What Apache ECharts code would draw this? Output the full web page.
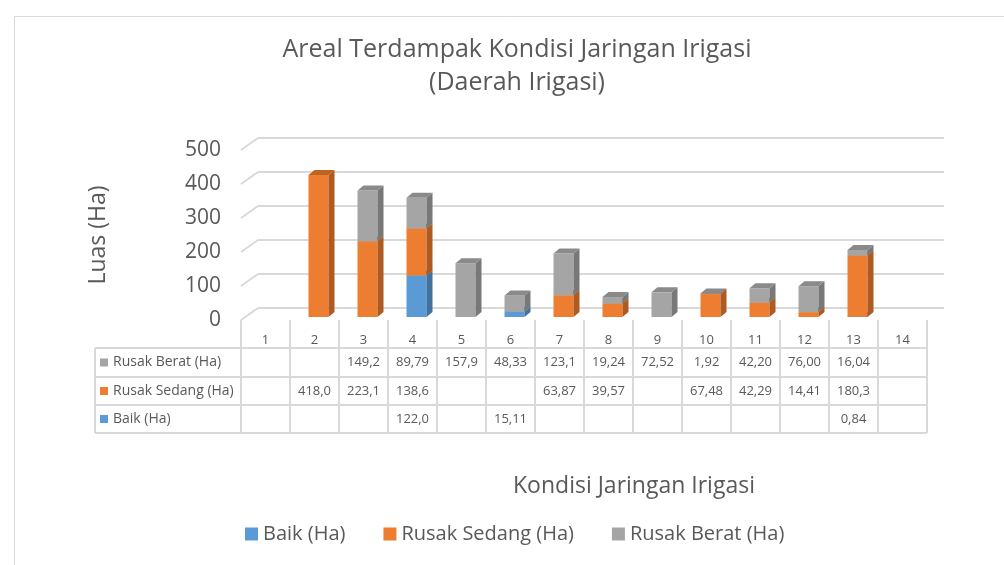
<!DOCTYPE html>
<html>
<head>
<meta charset="utf-8">
<script src="https://cdn.jsdelivr.net/npm/echarts@6/dist/echarts.min.js"></script>
<style>
  html, body { margin: 0; padding: 0; background: #fff; }
  #main { width: 1004px; height: 565px; }
</style>
</head>
<body>
<div id="main"></div>
<script>
// data kondisi jaringan irigasi (Ha)
var categories = ['1', '2', '3', '4', '5', '6', '7', '8', '9', '10', '11', '12', '13', '14'];
var baik = [null, null, null, 122.0, null, 15.11, null, null, null, null, null, null, 0.84, null];
var rusakSedang = [null, 418.0, 223.1, 138.6, null, null, 63.87, 39.57, null, 67.48, 42.29, 14.41, 180.3, null];
var rusakBerat = [null, null, 149.2, 89.79, 157.9, 48.33, 123.1, 19.24, 72.52, 1.92, 42.20, 76.00, 16.04, null];
var yTicks = [0, 100, 200, 300, 400, 500];
var seriesNames = ['Baik (Ha)', 'Rusak Sedang (Ha)', 'Rusak Berat (Ha)'];

var FONT = 'Open Sans';
var TXT = '#595959';
var GRIDC = '#D9D9D9';

// warna depan / samping / atas
var colors = [
    { front: '#5B9BD5', side: '#41719C', top: '#4A84B8' },
    { front: '#ED7D31', side: '#AE5A21', top: '#C0631F' },
    { front: '#A5A5A5', side: '#787878', top: '#8A8A8A' }
];

// data untuk bar bertumpuk: [index, nilai, dasar]
function stackData(list, below) {
    var out = [];
    for (var i = 0; i < list.length; i++) {
        if (list[i] == null) continue;
        var base = 0;
        for (var k = 0; k < below.length; k++) {
            if (below[k][i] != null) base += below[k][i];
        }
        out.push([i, list[i], base]);
    }
    return out;
}

function makeBar(c) {
    return function (params, api) {
        var i = api.value(0), v = api.value(1), base = api.value(2);
        var b = api.coord([i, base]);
        var t = api.coord([i, base + v]);
        var x0 = t[0] - 10, x1 = t[0] + 10, dx = 6, dy = 5;
        return {
            type: 'group',
            children: [
                { type: 'rect', shape: { x: x0, y: t[1], width: 20, height: b[1] - t[1] }, style: { fill: c.front } },
                { type: 'polygon', shape: { points: [[x1, t[1]], [x1 + dx, t[1] - dy], [x1 + dx, b[1] - dy], [x1, b[1]]] }, style: { fill: c.side } },
                { type: 'polygon', shape: { points: [[x0, t[1]], [x0 + dx, t[1] - dy], [x1 + dx, t[1] - dy], [x1, t[1]]] }, style: { fill: c.top } }
            ]
        };
    };
}

// garis dinding samping kiri
function renderWall(params, api) {
    var v = api.value(0);
    var p = api.coord([0, v]);
    var w = api.size([1, 0])[0];
    var x = p[0] - w / 2;
    return {
        type: 'line',
        shape: { x1: x, y1: p[1], x2: x + 17, y2: p[1] - 12 },
        style: { stroke: GRIDC, lineWidth: 2 }
    };
}

var chart = echarts.init(document.getElementById('main'));

var option = {
    animation: false,
    backgroundColor: '#fff',
    title: {
        text: 'Areal Terdampak Kondisi Jaringan Irigasi\n(Daerah Irigasi)',
        left: 512,
        top: 28,
        textAlign: 'center',
        textStyle: { fontFamily: FONT, fontSize: 25, fontWeight: 'normal', color: TXT, lineHeight: 33 }
    },
    legend: {
        data: seriesNames,
        left: 240,
        top: 519,
        itemWidth: 13,
        itemHeight: 13,
        itemGap: 38,
        icon: 'rect',
        textStyle: { fontFamily: FONT, fontSize: 20, color: TXT }
    },
    grid: [
        { left: 241, right: 77, top: 150, height: 170 },   // lantai depan + label
        { left: 245, right: 73, top: 147, height: 170 },   // bar
        { left: 258, right: 60, top: 138, height: 170 }    // dinding belakang
    ],
    xAxis: [
        {
            type: 'category', gridIndex: 0, data: categories,
            axisLine: { show: false }, axisTick: { show: false },
            axisLabel: { fontFamily: FONT, fontSize: 13, color: TXT, margin: 14 }
        },
        { type: 'category', gridIndex: 1, data: categories, show: false },
        { type: 'category', gridIndex: 2, data: categories, show: false }
    ],
    yAxis: [
        {
            type: 'value', gridIndex: 0, min: 0, max: 500, interval: 100,
            axisLine: { show: false }, axisTick: { show: false }, splitLine: { show: false },
            axisLabel: { fontFamily: FONT, fontSize: 21, color: TXT, margin: 20 }
        },
        { type: 'value', gridIndex: 1, min: 0, max: 500, interval: 100, show: false },
        {
            type: 'value', gridIndex: 2, min: 0, max: 500, interval: 100,
            axisLine: { show: false }, axisTick: { show: false }, axisLabel: { show: false },
            splitLine: { show: true, lineStyle: { color: GRIDC, width: 2 } }
        }
    ],
    series: [
        {
            type: 'custom', name: 'wall', xAxisIndex: 0, yAxisIndex: 0,
            data: yTicks.map(function (v) { return [v]; }),
            encode: { y: 0 },
            renderItem: renderWall, silent: true
        },
        {
            type: 'custom', name: seriesNames[0], xAxisIndex: 1, yAxisIndex: 1,
            itemStyle: { color: colors[0].front },
            data: stackData(baik, []),
            encode: { x: 0, y: 1 },
            renderItem: makeBar(colors[0])
        },
        {
            type: 'custom', name: seriesNames[1], xAxisIndex: 1, yAxisIndex: 1,
            itemStyle: { color: colors[1].front },
            data: stackData(rusakSedang, [baik]),
            encode: { x: 0, y: 1 },
            renderItem: makeBar(colors[1])
        },
        {
            type: 'custom', name: seriesNames[2], xAxisIndex: 1, yAxisIndex: 1,
            itemStyle: { color: colors[2].front },
            data: stackData(rusakBerat, [baik, rusakSedang]),
            encode: { x: 0, y: 1 },
            renderItem: makeBar(colors[2])
        }
    ]
};
chart.setOption(option);

// tabel data di bawah grafik
function fmt(v) {
    if (v == null) return '';
    var s = v >= 100 ? v.toFixed(1) : v.toFixed(2);
    return s.replace('.', ',');
}

var c0 = chart.convertToPixel({ xAxisIndex: 0 }, 0);
var c1 = chart.convertToPixel({ xAxisIndex: 0 }, 1);
var colW = c1 - c0;
var firstEdge = c0 - colW / 2;
var lastEdge = firstEdge + colW * categories.length;
var tableLeft = 95;
var rowLines = [348, 377, 405, 433];
var rows = [
    { name: seriesNames[2], data: rusakBerat, color: colors[2].front },
    { name: seriesNames[1], data: rusakSedang, color: colors[1].front },
    { name: seriesNames[0], data: baik, color: colors[0].front }
];

var g = [];
g.push({ type: 'rect', left: 12, top: 14, shape: { x: 0, y: 0, width: 1010, height: 570 }, style: { fill: 'none', stroke: GRIDC, lineWidth: 1 }, z: -1 });
rowLines.forEach(function (y) {
    g.push({ type: 'line', shape: { x1: tableLeft, y1: y, x2: lastEdge, y2: y }, style: { stroke: GRIDC, lineWidth: 2 } });
});
g.push({ type: 'line', shape: { x1: tableLeft, y1: rowLines[0], x2: tableLeft, y2: rowLines[3] }, style: { stroke: GRIDC, lineWidth: 2 } });
for (var k = 0; k <= categories.length; k++) {
    var ex = firstEdge + colW * k;
    g.push({ type: 'line', shape: { x1: ex, y1: 320, x2: ex, y2: rowLines[3] }, style: { stroke: GRIDC, lineWidth: 2 } });
}
rows.forEach(function (r, ri) {
    var cy = (rowLines[ri] + rowLines[ri + 1]) / 2;
    g.push({ type: 'rect', shape: { x: 100, y: cy - 4, width: 8, height: 8 }, style: { fill: r.color } });
    g.push({ type: 'text', x: 113, y: cy, style: { text: r.name, fontFamily: FONT, fontSize: 14, fill: TXT, verticalAlign: 'middle', align: 'left' } });
    for (var i = 0; i < r.data.length; i++) {
        if (r.data[i] == null) continue;
        var cx = chart.convertToPixel({ xAxisIndex: 0 }, i);
        g.push({ type: 'text', x: cx, y: cy, style: { text: fmt(r.data[i]), fontFamily: FONT, fontSize: 13, fill: TXT, align: 'center', verticalAlign: 'middle' } });
    }
});
// judul sumbu
g.push({ type: 'text', x: 634, y: 486, style: { text: 'Kondisi Jaringan Irigasi', fontFamily: FONT, fontSize: 23, fill: TXT, align: 'center', verticalAlign: 'middle' } });
g.push({ type: 'text', x: 98, y: 235, rotation: Math.PI / 2, style: { text: 'Luas (Ha)', fontFamily: FONT, fontSize: 23, fill: TXT, align: 'center', verticalAlign: 'middle' } });

chart.setOption({ graphic: g });

window.addEventListener('resize', function () {
    chart.resize();
});
</script>
</body>
</html>
